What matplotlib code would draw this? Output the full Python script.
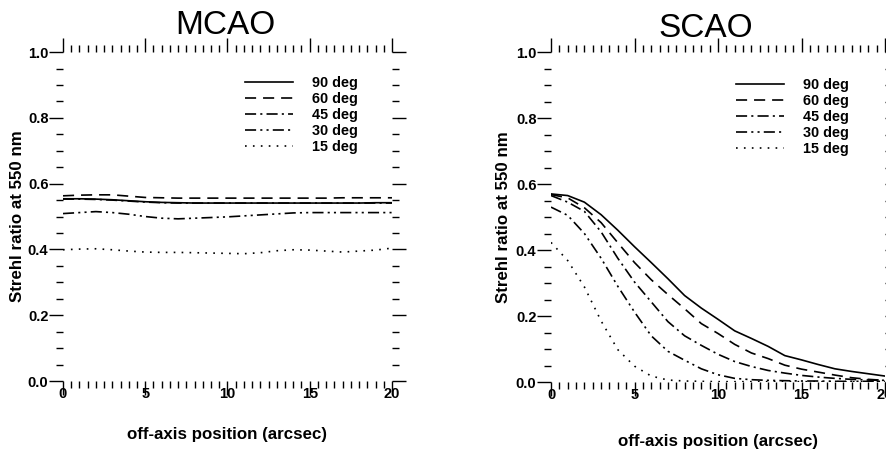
import numpy as np
import matplotlib
matplotlib.use("Agg")
import matplotlib.pyplot as plt
from matplotlib.ticker import MultipleLocator

plt.rcParams['font.family'] = ['Liberation Sans', 'DejaVu Sans']
plt.rcParams['lines.scale_dashes'] = False

# off-axis position (arcsec)
x = np.arange(0, 21)
labels = ['90 deg', '60 deg', '45 deg', '30 deg', '15 deg']

# MCAO strehl
mcao_90 = [0.554, 0.554, 0.553, 0.551, 0.548, 0.545, 0.543, 0.542, 0.541, 0.541, 0.541,
           0.541, 0.541, 0.541, 0.541, 0.541, 0.541, 0.541, 0.541, 0.542, 0.542]
mcao_60 = [0.563, 0.565, 0.566, 0.566, 0.562, 0.558, 0.557, 0.556, 0.556, 0.556, 0.556,
           0.556, 0.556, 0.556, 0.556, 0.556, 0.556, 0.557, 0.557, 0.557, 0.557]
mcao_45 = [0.553, 0.553, 0.552, 0.550, 0.547, 0.544, 0.542, 0.541, 0.541, 0.541, 0.541,
           0.541, 0.541, 0.541, 0.541, 0.541, 0.541, 0.541, 0.541, 0.541, 0.541]
mcao_30 = [0.509, 0.512, 0.515, 0.512, 0.507, 0.500, 0.495, 0.493, 0.495, 0.497, 0.499,
           0.502, 0.505, 0.508, 0.511, 0.512, 0.512, 0.512, 0.512, 0.512, 0.512]
mcao_15 = [0.399, 0.401, 0.402, 0.399, 0.395, 0.392, 0.391, 0.391, 0.390, 0.389, 0.388,
           0.387, 0.390, 0.396, 0.399, 0.398, 0.395, 0.392, 0.395, 0.398, 0.404]

# SCAO strehl
scao_90 = [0.570, 0.565, 0.545, 0.507, 0.460, 0.410, 0.362, 0.313, 0.262, 0.224, 0.190,
           0.155, 0.132, 0.108, 0.080, 0.067, 0.053, 0.040, 0.032, 0.025, 0.018]
scao_60 = [0.568, 0.558, 0.528, 0.483, 0.422, 0.362, 0.310, 0.265, 0.222, 0.177, 0.147,
           0.114, 0.088, 0.071, 0.051, 0.039, 0.030, 0.021, 0.013, 0.008, 0.005]
scao_45 = [0.565, 0.545, 0.517, 0.455, 0.375, 0.303, 0.243, 0.183, 0.140, 0.111, 0.084,
           0.062, 0.047, 0.035, 0.027, 0.020, 0.015, 0.011, 0.008, 0.006, 0.005]
scao_30 = [0.530, 0.505, 0.450, 0.375, 0.290, 0.212, 0.140, 0.093, 0.066, 0.040, 0.022,
           0.011, 0.007, 0.005, 0.004, 0.003, 0.003, 0.002, 0.002, 0.002, 0.002]
scao_15 = [0.423, 0.368, 0.288, 0.185, 0.098, 0.048, 0.018, 0.006, 0.003, 0.002, 0.001,
           0.001, 0.001, 0.001, 0.001, 0.001, 0.001, 0.001, 0.001, 0.001, 0.001]

styles = ['-', (0, (8, 5)), (0, (8, 3, 1.5, 3)), (0, (8, 3, 1.5, 3, 1.5, 3)), (0, (1.2, 4.5))]

fig = plt.figure(figsize=(8.86, 4.5), dpi=100)
ax1 = fig.add_axes([0.0711, 0.1533, 0.3713, 0.731])
ax2 = fig.add_axes([0.6219, 0.1511, 0.3770, 0.7333])


def setup(ax, title, data, tx, ty, lx, ly, leg_x, leg_y):
    for y, ls, lab in zip(data, styles, labels):
        ax.plot(x, y, color='black', lw=1.2, linestyle=ls, label=lab)
    ax.set_xlim(0, 20)
    ax.set_ylim(0, 1.0)
    for s in ax.spines.values():
        s.set_visible(False)
    ax.xaxis.set_major_locator(MultipleLocator(5))
    ax.xaxis.set_minor_locator(MultipleLocator(0.5))
    ax.yaxis.set_major_locator(MultipleLocator(0.2))
    ax.yaxis.set_minor_locator(MultipleLocator(0.05))
    ax.set_yticks([0.0, 0.2, 0.4, 0.6, 0.8, 1.0])
    ax.set_yticklabels(['0.0', '0.2', '0.4', '0.6', '0.8', '1.0'])
    ax.tick_params(which='both', direction='out', top=True, right=True, width=1.0)
    ax.tick_params(which='major', length=10)
    ax.tick_params(which='minor', length=5)
    ax.tick_params(axis='x', which='major', pad=-6)
    ax.tick_params(axis='y', which='major', pad=0.5)
    for t in ax.get_xticklabels() + ax.get_yticklabels():
        t.set_fontweight('bold')
        t.set_fontsize(10.5)
    ax.text(tx, ty, title, transform=ax.transAxes, ha='center', va='center', fontsize=24)
    ax.set_ylabel('Strehl ratio at 550 nm', fontsize=12.2, fontweight='bold')
    ax.yaxis.set_label_coords(lx, 0.5)
    ax.set_xlabel('off-axis position (arcsec)', fontsize=12.2, fontweight='bold')
    ax.xaxis.set_label_coords(0.5, ly)
    ax.legend(loc='upper left', bbox_to_anchor=(leg_x, leg_y), frameon=False,
              handlelength=3.35, handletextpad=1.3, labelspacing=0.15, borderpad=0,
              borderaxespad=0, prop={'weight': 'bold', 'size': 10.4})


setup(ax1, 'MCAO', [mcao_90, mcao_60, mcao_45, mcao_30, mcao_15],
      0.495, 1.08, -0.115, -0.14, 0.553, 0.928)
setup(ax2, 'SCAO', [scao_90, scao_60, scao_45, scao_30, scao_15],
      0.464, 1.07, -0.12, -0.157, 0.554, 0.922)

fig.savefig('out.png', dpi=100)
